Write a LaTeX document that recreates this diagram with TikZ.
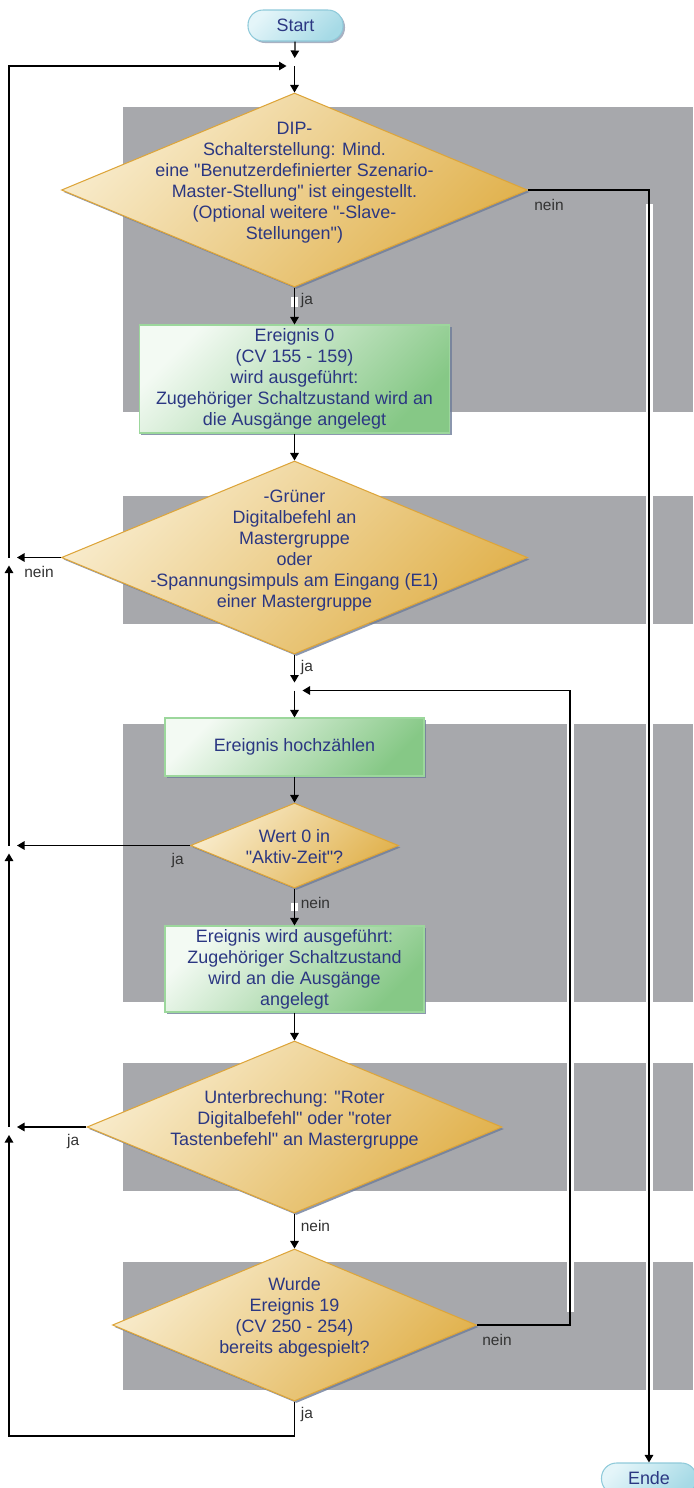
\documentclass[tikz,border=0pt]{standalone}
\usepackage{fontspec}
\setmainfont{Liberation Sans}[Ligatures=TeXOff]
\usetikzlibrary{shapes.geometric,arrows.meta,shadows}

\definecolor{txtblue}{HTML}{2B3782}
\definecolor{lane}{HTML}{A7A8AC}
\definecolor{decfilla}{HTML}{F8EBCB}
\definecolor{decfillb}{HTML}{E1B24E}
\definecolor{decline}{HTML}{DDA53A}
\definecolor{actfilla}{HTML}{F3FAF3}
\definecolor{actfillb}{HTML}{86C886}
\definecolor{actline}{HTML}{9CD79C}
\definecolor{termfilla}{HTML}{E4F5F9}
\definecolor{termfillb}{HTML}{A6DAE6}
\definecolor{termline}{HTML}{8FCADA}
\definecolor{shadowblue}{HTML}{6E7D9A}
\definecolor{lblgray}{HTML}{333333}

\newcommand{\dtext}[2][1.5pt]{\makebox[0pt]{\smash{\raisebox{#1}{\begin{tabular}{@{}c@{}}#2\end{tabular}}}}}

\begin{document}
\begin{tikzpicture}[x=0.2mm,y=-0.2mm,
  every node/.style={font=\fontsize{10.2pt}{11.95pt}\selectfont, text=txtblue},
  lanebox/.style={fill=lane},
  dec/.style={diamond, draw=decline, line width=0.6pt, inner sep=0pt,
    top color=decfilla, bottom color=decfillb, shading angle=45,
    drop shadow={shadow xshift=0.4mm, shadow yshift=-0.4mm, fill=shadowblue, opacity=0.8}},
  act/.style={rectangle, draw=actline, line width=0.6pt, inner sep=0pt, align=center,
    top color=actfilla, bottom color=actfillb, shading angle=45,
    drop shadow={shadow xshift=0.4mm, shadow yshift=-0.4mm, fill=shadowblue, opacity=0.8}},
  term/.style={rectangle, rounded corners=3mm, draw=termline, line width=0.6pt,
    minimum width=19mm, minimum height=6.2mm, inner sep=0pt,
    top color=termfilla, bottom color=termfillb, shading angle=45,
    drop shadow={shadow xshift=0.4mm, shadow yshift=-0.4mm, fill=shadowblue, opacity=0.6}},
  flow/.style={draw=black, line width=0.7pt, -{Triangle[length=1.5mm,width=1.7mm]}},
  tojoin/.style={flow, shorten >=1.6mm},
  halo/.style={draw=white, line width=1.4mm},
  lbl/.style={font=\fontsize{8.8pt}{10pt}\selectfont, text=lblgray, inner sep=0pt}]
\useasboundingbox (0,0) rectangle (693,1488);

\fill[lanebox] (123,107) rectangle (693,412);
\fill[lanebox] (123,496) rectangle (693,624);
\fill[lanebox] (123,724) rectangle (693,1002);
\fill[lanebox] (123,1063) rectangle (693,1191);
\fill[lanebox] (123,1262) rectangle (693,1390);

\node[term] (start) at (295.5,25.5) {Start};
\node[dec, minimum width=93.2mm, minimum height=38.8mm] (d1) at (294.5,190)
  {\dtext{DIP-\\Schalterstellung: Mind.\\eine "Benutzerdefinierter Szenario-\\Master-Stellung" ist eingestellt.\\(Optional weitere "-Slave-\\Stellungen")}};
\node[act, minimum width=62mm, minimum height=21.6mm] (b1) at (294.5,379)
  {Ereignis 0\\(CV 155 - 159)\\wird ausgeführt:\\Zugehöriger Schaltzustand wird an\\die Ausgänge angelegt};
\node[dec, minimum width=93.2mm, minimum height=38.6mm] (d2) at (294.5,557.5)
  {\dtext{-Grüner\\Digitalbefehl an\\Mastergruppe\\oder\\-Spannungsimpuls am Eingang (E1)\\einer Mastergruppe}};
\node[act, minimum width=51.8mm, minimum height=11.6mm] (b2) at (294.5,747) {Ereignis hochzählen};
\node[dec, minimum width=41.6mm, minimum height=17mm] (d3) at (294.5,845.5)
  {\dtext[-4.6pt]{Wert 0 in\\"Aktiv-Zeit"?}};
\node[act, minimum width=51.8mm, minimum height=17.2mm] (b3) at (294.5,969)
  {Ereignis wird ausgeführt:\\Zugehöriger Schaltzustand\\wird an die Ausgänge\\angelegt};
\node[dec, minimum width=83mm, minimum height=34.4mm] (d4) at (294.5,1127)
  {\dtext{Unterbrechung: "Roter\\Digitalbefehl" oder "roter\\Tastenbefehl" an Mastergruppe}};
\node[dec, minimum width=72.8mm, minimum height=30.4mm] (d5) at (294.5,1325)
  {\dtext{Wurde\\Ereignis 19\\(CV 250 - 254)\\bereits abgespielt?}};
\node[term] (ende) at (649,1478.5) {Ende};

\coordinate (j1) at (294.5,66);
\coordinate (j2) at (294.5,690.5);
\coordinate (l0) at (9,66);
\coordinate (l1) at (d2.west -| l0);
\coordinate (l2) at (d3.west -| l0);
\coordinate (l3) at (d4.west -| l0);
\coordinate (bc) at (294.5,1436);
\coordinate (bl) at (9,1436);
\coordinate (r1) at (d1.east -| ende.north);
\coordinate (r2) at (570,1325);
\coordinate (r3) at (570,690.5);

\draw[halo, shorten <=2.8mm] (r1) -- (ende.north);
\draw[halo, shorten <=2.8mm, shorten >=2.6mm] (r3) -- (r2);
\draw[halo, shorten <=1.8mm, shorten >=3.4mm] (d1) -- (b1);
\draw[halo, shorten <=2.8mm, shorten >=2.8mm] (d3) -- (b3);

\draw[tojoin] (start) -- (j1);
\draw[flow] (j1) -- (d1);
\draw[flow] (d1.east) -- (r1) -- (ende.north);
\draw[flow] (d1) -- (b1);
\draw[flow] (b1) -- (d2);
\draw[tojoin] (d2) -- (j2);
\draw[flow] (j2) -- (b2);
\draw[flow] (b2) -- (d3);
\draw[flow] (d3) -- (b3);
\draw[flow] (b3) -- (d4);
\draw[flow] (d4) -- (d5);
\draw[tojoin] (d5.east) -- (r2) -- (r3) -- (j2);
\draw[tojoin] (d2.west) -- (l1);
\draw[tojoin] (d3.west) -- (l2);
\draw[tojoin] (d4.west) -- (l3);
\draw[tojoin] (d5.south) -- (bc) -- (bl) -- (l3);
\draw[tojoin] (l3) -- (l2);
\draw[tojoin] (l2) -- (l1);
\draw[tojoin] (l1) -- (l0) -- (j1);

\node[lbl, anchor=west] (n1) at ([shift={(6,15)}]d1.east) {nein};
\node[lbl, anchor=west] (y1) at ([shift={(6,13)}]d1.south) {ja};
\node[lbl, anchor=east] (n2) at ([shift={(-7,14)}]d2.west) {nein};
\node[lbl, anchor=west] (y2) at ([shift={(6,13)}]d2.south) {ja};
\node[lbl, anchor=east] (y3) at ([shift={(-6,15)}]d3.west) {ja};
\node[lbl, anchor=west] (n3) at ([shift={(6,14)}]d3.south) {nein};
\node[lbl, anchor=east] (y4) at ([shift={(-7,14)}]d4.west) {ja};
\node[lbl, anchor=west] (n4) at ([shift={(6,12)}]d4.south) {nein};
\node[lbl, anchor=west] (n5) at ([shift={(5,15)}]d5.east) {nein};
\node[lbl, anchor=west] (y5) at ([shift={(6,13)}]d5.south) {ja};
\end{tikzpicture}
\end{document}
